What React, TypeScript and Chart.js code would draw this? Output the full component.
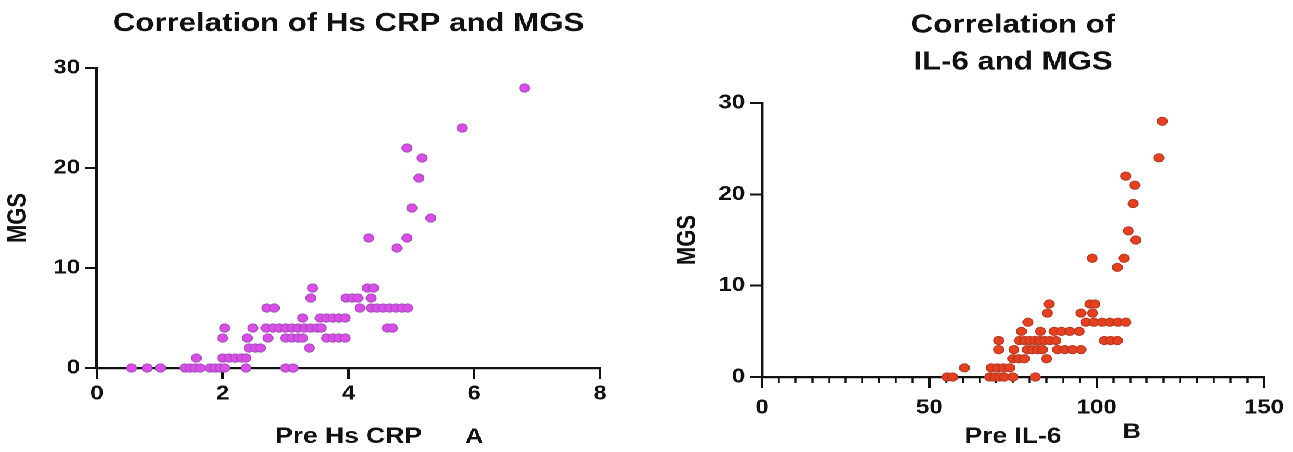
import React, { useEffect, useRef } from 'react';
import { Chart, registerables } from 'chart.js';

Chart.register(...registerables);

// ---------- data ----------
// Panel A: Pre Hs CRP vs MGS
const titleA = 'Correlation of Hs CRP and MGS';
const xTitleA = 'Pre Hs CRP';
const yTitleA = 'MGS';
const letterA = 'A';
const preHsCrp = [
  0.55, 0.8, 1.01, 1.4, 1.48, 1.56, 1.64, 1.8, 1.88, 1.96, 2.03, 2.37, 3.0, 3.12,
  1.58, 2.0, 2.1, 2.2, 2.3, 2.37,
  2.42, 2.52, 2.6, 3.38,
  2.0, 2.39, 2.72, 3.0, 3.1, 3.2, 3.27, 3.65, 3.75, 3.85, 3.95,
  2.03, 2.48, 2.69, 2.8, 2.9, 3.0, 3.1, 3.2, 3.3, 3.4, 3.5, 3.57, 4.62, 4.7,
  3.27, 3.55, 3.65, 3.75, 3.85, 3.95,
  2.7, 2.82, 4.18, 4.36, 4.45, 4.55, 4.65, 4.75, 4.85, 4.94,
  3.4, 3.96, 4.06, 4.15, 4.36,
  3.43, 4.3, 4.4,
  4.77, 4.32, 4.93, 5.31, 5.01, 5.12, 5.17, 4.93, 5.81, 6.8,
];
const mgsA = [
  0, 0, 0, 0, 0, 0, 0, 0, 0, 0, 0, 0, 0, 0,
  1, 1, 1, 1, 1, 1,
  2, 2, 2, 2,
  3, 3, 3, 3, 3, 3, 3, 3, 3, 3, 3,
  4, 4, 4, 4, 4, 4, 4, 4, 4, 4, 4, 4, 4, 4,
  5, 5, 5, 5, 5, 5,
  6, 6, 6, 6, 6, 6, 6, 6, 6, 6,
  7, 7, 7, 7, 7,
  8, 8, 8,
  12, 13, 13, 15, 16, 19, 21, 22, 24, 28,
];
const xAxisA = [0, 8, 2]; // min, max, step
const yAxisA = [0, 30, 10];

// Panel B: Pre IL-6 vs MGS
const titleB = ['Correlation of', 'IL-6 and MGS'];
const xTitleB = 'Pre IL-6';
const yTitleB = 'MGS';
const letterB = 'B';
const preIl6 = [
  55.3, 57, 68, 69.5, 71, 72.4, 75, 81.7,
  60.5, 68.5, 70.3, 72.1, 74,
  75, 76.7, 78.4, 85,
  70.7, 75.3, 79.3, 80.8, 82.3, 83.8, 88.3, 90.5, 92.8, 95.3,
  70.7, 76.9, 78.5, 80, 81.5, 83, 84.5, 86, 87.8, 102.3, 104.2, 106.2,
  77.5, 83.2, 87.3, 89.5, 92, 94.8,
  79.5, 96.8, 99.2, 101.6, 104, 106.4, 108.7,
  85.3, 95.3, 98.8,
  85.8, 98, 99.5,
  106.2, 98.7, 108.2, 111.7, 109.5, 110.9, 111.4, 108.7, 118.6, 119.6,
];
const mgsB = [
  0, 0, 0, 0, 0, 0, 0, 0,
  1, 1, 1, 1, 1,
  2, 2, 2, 2,
  3, 3, 3, 3, 3, 3, 3, 3, 3, 3,
  4, 4, 4, 4, 4, 4, 4, 4, 4, 4, 4, 4,
  5, 5, 5, 5, 5, 5,
  6, 6, 6, 6, 6, 6, 6,
  7, 7, 7,
  8, 8, 8,
  12, 13, 13, 15, 16, 19, 21, 22, 24, 28,
];
const xAxisB = [0, 150, 50];
const xMinorStepB = 5;
const yAxisB = [0, 30, 10];

// ---------- styling ----------
const STRETCH = 1.2;
const FONT = "'Liberation Sans', Arial, Helvetica, sans-serif";
const INK = '#111111';

const panelLetterPlugin = {
  id: 'panelLetter',
  afterDraw(chart: any, _args: any, opts: any) {
    const { ctx } = chart;
    const xs = chart.scales.x;
    ctx.save();
    ctx.font = `bold ${opts.size}px ${FONT}`;
    ctx.fillStyle = INK;
    ctx.textAlign = 'center';
    ctx.textBaseline = 'middle';
    ctx.fillText(opts.text, xs.getPixelForValue(opts.at), opts.y);
    ctx.restore();
  },
};

function buildConfig(p: any) {
  const scales: any = {
    x: {
      type: 'linear',
      position: 'bottom',
      weight: 1,
      min: p.xAxis[0],
      max: p.xAxis[1],
      ticks: {
        stepSize: p.xAxis[2],
        color: INK,
        font: { family: FONT, size: 20, weight: 'bold' },
        padding: p.xTickPad,
        maxRotation: 0,
      },
      grid: { drawOnChartArea: false, tickLength: 11, tickWidth: 2, tickColor: INK },
      border: { color: INK, width: 2.2 },
      title: {
        display: true,
        text: p.xTitle,
        color: INK,
        font: { family: FONT, size: 22, weight: 'bold', lineHeight: 1.2 },
        padding: { top: 0, bottom: p.xTitlePad },
      },
      afterFit: (s: any) => { s.height = p.xHeight; },
    },
    y: {
      type: 'linear',
      position: 'left',
      min: p.yAxis[0],
      max: p.yAxis[1],
      ticks: {
        stepSize: p.yAxis[2],
        color: INK,
        font: { family: FONT, size: 20, weight: 'bold' },
        padding: 4,
      },
      grid: { drawOnChartArea: false, tickLength: 10, tickWidth: 2, tickColor: INK },
      border: { color: INK, width: 2.2 },
      title: {
        display: true,
        text: p.yTitle,
        color: INK,
        font: { family: FONT, size: 22, weight: 'bold', lineHeight: 1.2 },
        padding: { top: p.yTitlePad, bottom: 0 },
      },
      afterFit: (s: any) => { s.width = p.yWidth; },
    },
  };
  if (p.xMinorStep) {
    scales.xMinor = {
      type: 'linear',
      position: 'bottom',
      weight: 0,
      min: p.xAxis[0],
      max: p.xAxis[1],
      ticks: { display: false, stepSize: p.xMinorStep },
      grid: { drawOnChartArea: false, tickLength: 6, tickWidth: 1.7, tickColor: INK },
      border: { display: false },
      afterFit: (s: any) => { s.height = 0; },
    };
  }
  return {
    type: 'scatter',
    data: {
      datasets: [
        {
          data: p.xs.map((x: number, i: number) => ({ x, y: p.ys[i] })),
          backgroundColor: p.fill,
          borderColor: p.stroke,
          borderWidth: 1,
          pointRadius: 4.1,
          pointHoverRadius: 4.1,
          clip: false,
        },
      ],
    },
    options: {
      responsive: false,
      animation: false,
      devicePixelRatio: 2,
      layout: { padding: { left: 0, right: p.padRight, top: 0, bottom: 0 } },
      plugins: {
        legend: { display: false },
        tooltip: { enabled: false },
        title: {
          display: true,
          text: p.title,
          fullSize: false,
          color: INK,
          font: { family: FONT, size: 26, weight: 'bold', lineHeight: p.titleLH },
          padding: { top: p.titlePadTop, bottom: p.titlePadBottom },
        },
        panelLetter: { text: p.letter, at: p.letterAt, y: p.letterY, size: 21 },
      },
      scales,
    },
    plugins: [panelLetterPlugin],
  } as any;
}

export default function App() {
  const refA = useRef<HTMLCanvasElement>(null);
  const refB = useRef<HTMLCanvasElement>(null);

  useEffect(() => {
    const chartA = new Chart(
      refA.current as HTMLCanvasElement,
      buildConfig({
        title: titleA, xTitle: xTitleA, yTitle: yTitleA, letter: letterA,
        xs: preHsCrp, ys: mgsA, xAxis: xAxisA, yAxis: yAxisA,
        fill: '#dc4ce8', stroke: '#a850bf',
        titleLH: 1.2, titlePadTop: 8, titlePadBottom: 28.8,
        yWidth: 80.8, padRight: 40, xHeight: 84, xTickPad: 3, xTitlePad: 2, yTitlePad: 2,
        letterAt: 6.0, letterY: 437,
      })
    );
    const chartB = new Chart(
      refB.current as HTMLCanvasElement,
      buildConfig({
        title: titleB, xTitle: xTitleB, yTitle: yTitleB, letter: letterB,
        xs: preIl6, ys: mgsB, xAxis: xAxisB, yAxis: yAxisB, xMinorStep: xMinorStepB,
        fill: '#e8401e', stroke: '#b53a24',
        titleLH: 1.42, titlePadTop: 7, titlePadBottom: 22.2,
        yWidth: 95, padRight: 23.8, xHeight: 75, xTickPad: 8, xTitlePad: 2, yTitlePad: 20,
        letterAt: 110.5, letterY: 432,
      })
    );
    return () => {
      chartA.destroy();
      chartB.destroy();
    };
  }, []);

  return (
    <div
      style={{
        position: 'absolute',
        left: 0,
        top: 0,
        width: 1293 / STRETCH,
        height: 452,
        background: '#ffffff',
        transform: `scaleX(${STRETCH})`,
        transformOrigin: '0 0',
        overflow: 'hidden',
      }}
    >
      <canvas ref={refA} width={540} height={452} style={{ position: 'absolute', left: 0, top: 0 }} />
      <canvas ref={refB} width={538} height={452} style={{ position: 'absolute', left: 540, top: 0 }} />
    </div>
  );
}
